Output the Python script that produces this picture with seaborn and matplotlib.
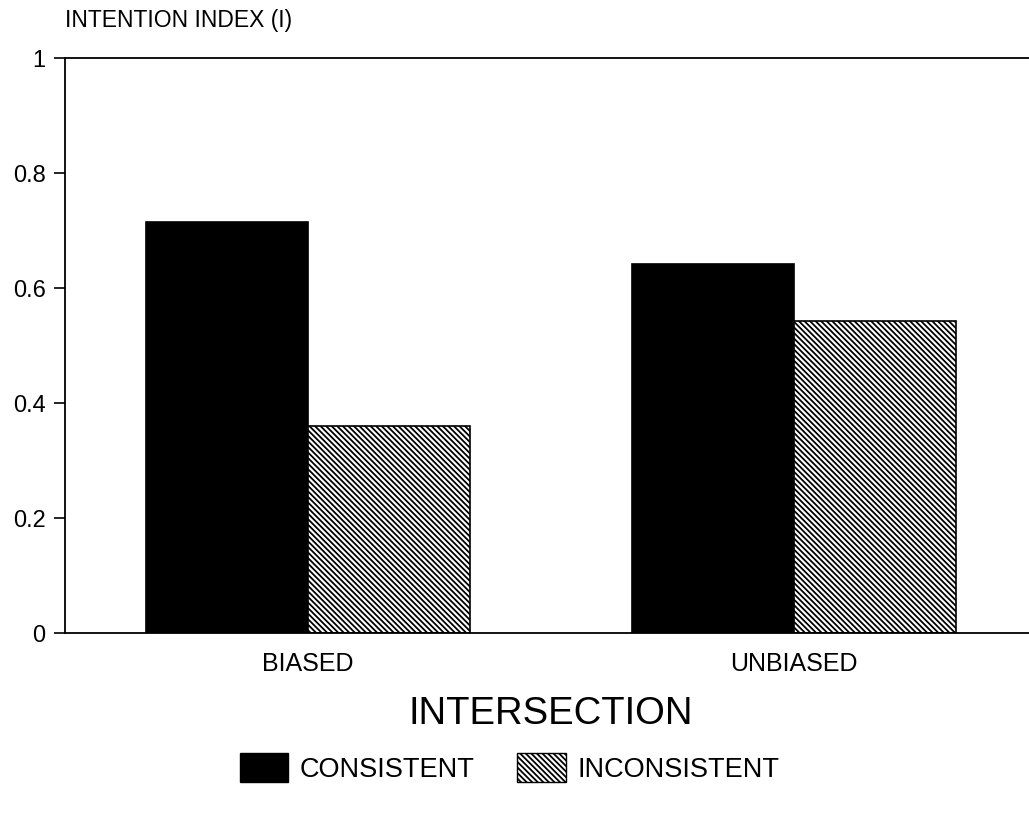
import pandas as pd
import matplotlib.pyplot as plt
import seaborn as sns
from matplotlib.patches import Patch

# data
intersections = ['BIASED', 'UNBIASED']
consistent = [0.715, 0.642]
inconsistent = [0.36, 0.543]

df = pd.DataFrame({
    'Intersection': intersections * 2,
    'Condition': ['CONSISTENT'] * 2 + ['INCONSISTENT'] * 2,
    'Index': consistent + inconsistent,
})

sns.set_style('white')
plt.rcParams['font.family'] = ['Liberation Sans', 'DejaVu Sans']
plt.rcParams['hatch.linewidth'] = 1.3
plt.rcParams['hatch.color'] = 'black'
for k in ['text.color', 'axes.labelcolor', 'xtick.color', 'ytick.color']:
    plt.rcParams[k] = 'black'

fig = plt.figure(figsize=(10.29, 8.15), dpi=100)
ax = fig.add_axes([0.0632, 0.2233, 0.945, 0.7055])

sns.barplot(data=df, x='Intersection', y='Index', hue='Condition',
            palette=['black', 'white'], width=0.667, gap=0,
            edgecolor='black', linewidth=1.2, legend=False, ax=ax)

# hatch the inconsistent bars
for bar in ax.containers[1]:
    bar.set_hatch('\\\\\\\\\\\\')

ax.set_xlim(-0.5, 1.5)
ax.set_ylim(0, 1)
ax.set_yticks([0, 0.2, 0.4, 0.6, 0.8, 1])
ax.set_yticklabels(['0', '0.2', '0.4', '0.6', '0.8', '1'])
ax.tick_params(axis='y', direction='out', length=8, width=1.2, left=True,
               labelsize=17, pad=6)
ax.tick_params(axis='x', length=0, labelsize=18, pad=14)
for s in ['left', 'top', 'bottom']:
    ax.spines[s].set_visible(True)
    ax.spines[s].set_color('black')
    ax.spines[s].set_linewidth(1.3)
ax.spines['right'].set_visible(False)

ax.set_ylabel('')
ax.set_xlabel('INTERSECTION', fontsize=27.5, labelpad=14)
fig.text(0.0632, 0.975, 'INTENTION INDEX (I)', fontsize=16.5, va='center', ha='left')

handles = [Patch(facecolor='black', edgecolor='black', label='CONSISTENT'),
           Patch(facecolor='white', edgecolor='black', hatch='\\\\\\\\\\\\',
                 label='INCONSISTENT')]
fig.legend(handles=handles, loc='center', bbox_to_anchor=(0.495, 0.058),
           ncol=2, frameon=False, fontsize=19.5, handlelength=1.8,
           handleheight=1.3, handletextpad=0.4, columnspacing=1.6)

fig.savefig('out.png', dpi=100)
